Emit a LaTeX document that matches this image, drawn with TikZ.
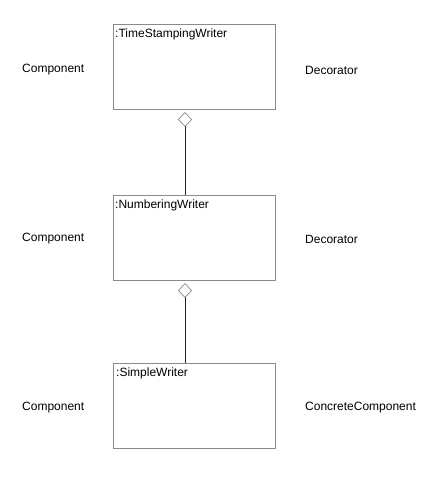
\documentclass[tikz,border=0pt]{standalone}
\usepackage{fontspec}
\setmainfont{Liberation Sans}
\usetikzlibrary{arrows.meta}
\definecolor{boxgrey}{HTML}{8A8A8E}
\definecolor{linegrey}{HTML}{202020}
\tikzset{
  objbox/.style={draw=boxgrey, line width=0.9pt, minimum width=162pt, minimum height=85pt, inner sep=0pt},
  objname/.style={anchor=north west, inner sep=0pt, font=\fontsize{12}{14}\selectfont},
  rolelabel/.style={anchor=west, inner sep=0pt, font=\fontsize{12}{14}\selectfont},
  aggr/.style={draw=linegrey, line width=0.8pt,
    {Diamond[open, length=15pt, width=14pt, color=boxgrey, line width=0.7pt]}-}
}
\begin{document}
\begin{tikzpicture}[x=1pt, y=-1pt]
  \useasboundingbox (0,0) rectangle (442,490);

  % object boxes
  \node[objbox, anchor=north west] (tsw) at (113,24) {};
  \node[objbox, anchor=north west] (nw)  at (113,195) {};
  \node[objbox, anchor=north west] (sw)  at (113,363) {};

  % object names
  \node[objname] (tswname) at ([xshift=2pt,yshift=-5pt]tsw.north west) {:TimeStampingWriter};
  \node[objname] (nwname)  at ([xshift=2pt,yshift=-5pt]nw.north west)  {:NumberingWriter};
  \node[objname] (swname)  at ([xshift=3pt,yshift=-5pt]sw.north west)  {:SimpleWriter};

  % role labels
  \node[rolelabel] (c1) at (22,70)  {Component};
  \node[rolelabel] (d1) at (305,70) {Decorator};
  \node[rolelabel] (c2) at (22,239) {Component};
  \node[rolelabel] (d2) at (305,239) {Decorator};
  \node[rolelabel] (c3) at (22,408) {Component};
  \node[rolelabel] (d3) at (305,408) {ConcreteComponent};

  % aggregation links
  \coordinate (a1) at (185,112);
  \coordinate (a2) at (185,283);
  \draw[aggr] (a1) -- (a1 |- nw.north);
  \draw[aggr] (a2) -- (a2 |- sw.north);
\end{tikzpicture}
\end{document}
